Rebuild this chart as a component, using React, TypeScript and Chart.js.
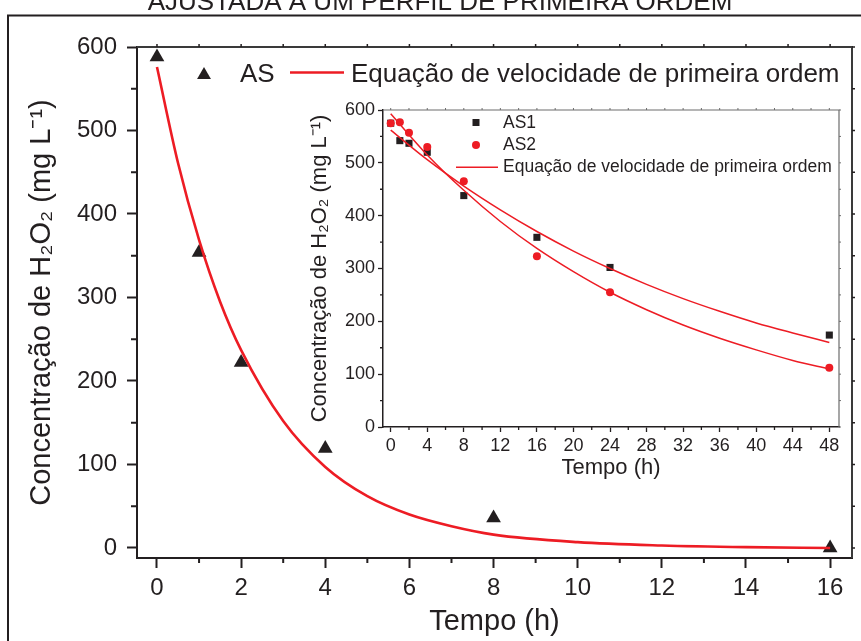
import React, { useEffect, useRef } from 'react';
import { Chart, registerables } from 'chart.js';

Chart.register(...registerables);

const INK = '#231f20';
const RED = '#ed1c24';
const FONT = "'Liberation Sans', Arial, Helvetica, sans-serif";

const HEADING = 'AJUSTADA A UM PERFIL DE PRIMEIRA ORDEM';
const X_TITLE = 'Tempo (h)';
const Y_TITLE = 'Concentração de H₂O₂ (mg L⁻¹)';
const FIT_LABEL = 'Equação de velocidade de primeira ordem';

// Main panel: AS run and its first-order rate curve
const asTimes = [0, 1, 2, 4, 8, 16];
const asConc = [588, 354, 222, 119, 36, 0];
const asFitTimes = [0, 0.5, 1, 1.5, 2, 3, 4, 5, 6, 7, 8, 10, 12, 14, 16];
const asFitConc = [576, 461, 369, 295, 237, 152, 97, 62, 40, 26, 16, 7, 3, 1, 0];
const mainXTicks = [0, 2, 4, 6, 8, 10, 12, 14, 16];
const mainXMinor = [1, 3, 5, 7, 9, 11, 13, 15];
const mainYTicks = [0, 100, 200, 300, 400, 500, 600];
const mainYMinor = [50, 150, 250, 350, 450, 550];

// Inset: AS1 and AS2 runs over 48 h with their first-order curves
const insetTimes = [0, 1, 2, 4, 8, 16, 24, 48];
const as1Conc = [575, 542, 537, 520, 438, 359, 302, 174];
const as2Conc = [575, 577, 557, 530, 465, 323, 255, 112];
const insetFitTimes = [0, 4, 8, 12, 16, 20, 24, 28, 32, 36, 40, 44, 48];
const as1FitConc = [562, 506, 456, 411, 370, 333, 300, 270, 243, 219, 197, 178, 160];
const as2FitConc = [593, 515, 448, 389, 338, 294, 255, 222, 193, 168, 146, 126, 110];
const insetXTicks = [0, 4, 8, 12, 16, 20, 24, 28, 32, 36, 40, 44, 48];
const insetXMinor = [2, 6, 10, 14, 18, 22, 26, 30, 34, 38, 42, 46];
const insetYTicks = [0, 100, 200, 300, 400, 500, 600];
const insetYMinor = [50, 150, 250, 350, 450, 550];

const pts = (xs: number[], ys: number[]) => xs.map((x, i) => ({ x, y: ys[i] }));

type Side = 'bottom' | 'top' | 'left' | 'right';

function tickMarks(ctx: CanvasRenderingContext2D, scale: any, values: number[], side: Side, edge: number, len: number) {
  ctx.beginPath();
  for (const v of values) {
    const p = scale.getPixelForValue(v);
    if (side === 'bottom') { ctx.moveTo(p, edge); ctx.lineTo(p, edge + len); }
    else if (side === 'top') { ctx.moveTo(p, edge); ctx.lineTo(p, edge - len); }
    else if (side === 'left') { ctx.moveTo(edge, p); ctx.lineTo(edge - len, p); }
    else { ctx.moveTo(edge, p); ctx.lineTo(edge + len, p); }
  }
  ctx.stroke();
}

function triangle(ctx: CanvasRenderingContext2D, x: number, y: number, r: number) {
  ctx.beginPath();
  for (let k = 0; k < 3; k++) {
    const a = (k * 2 * Math.PI) / 3;
    const px = x + Math.sin(a) * r;
    const py = y - Math.cos(a) * r;
    if (k === 0) ctx.moveTo(px, py); else ctx.lineTo(px, py);
  }
  ctx.closePath();
  ctx.fill();
}

const mainDecor = {
  id: 'mainDecor',
  afterDraw(chart: any) {
    const { ctx, chartArea: a, scales } = chart;
    const xs = scales.x;
    const ys = scales.y;
    ctx.save();
    // outer frame
    ctx.strokeStyle = INK;
    ctx.lineWidth = 2;
    ctx.strokeRect(8, 15.5, 920, 720);
    // heading
    ctx.fillStyle = INK;
    ctx.font = `26px ${FONT}`;
    ctx.textAlign = 'center';
    ctx.textBaseline = 'alphabetic';
    ctx.fillText(HEADING, 440, 10);
    // top and right edges of the plot box
    ctx.strokeStyle = '#3a3a3a';
    ctx.lineWidth = 2;
    ctx.beginPath();
    ctx.moveTo(a.left, a.top);
    ctx.lineTo(a.right, a.top);
    ctx.lineTo(a.right, a.bottom);
    ctx.stroke();
    // minor ticks
    ctx.strokeStyle = INK;
    ctx.lineWidth = 2;
    tickMarks(ctx, xs, mainXMinor, 'bottom', a.bottom, 5);
    tickMarks(ctx, ys, mainYMinor, 'left', a.left, 6);
    // mirrored ticks on the top and right edges
    ctx.lineWidth = 1.5;
    tickMarks(ctx, xs, [...mainXTicks, ...mainXMinor], 'top', a.top, 3);
    tickMarks(ctx, ys, [...mainYTicks, ...mainYMinor], 'right', a.right, 3);
    // legend
    ctx.fillStyle = INK;
    triangle(ctx, 204, 75, 8);
    ctx.font = `26px ${FONT}`;
    ctx.textAlign = 'left';
    ctx.textBaseline = 'alphabetic';
    ctx.fillText('AS', 240, 82);
    ctx.strokeStyle = RED;
    ctx.lineWidth = 2.6;
    ctx.beginPath();
    ctx.moveTo(290, 72.5);
    ctx.lineTo(344, 72.5);
    ctx.stroke();
    ctx.fillText(FIT_LABEL, 351, 82);
    ctx.restore();
  },
};

const insetDecor = {
  id: 'insetDecor',
  afterDraw(chart: any) {
    const { ctx, chartArea: a, scales } = chart;
    const xs = scales.x;
    const ys = scales.y;
    ctx.save();
    ctx.strokeStyle = '#6d6d6d';
    ctx.lineWidth = 1.2;
    ctx.beginPath();
    ctx.moveTo(a.left, a.top);
    ctx.lineTo(a.right, a.top);
    ctx.lineTo(a.right, a.bottom);
    ctx.stroke();
    ctx.strokeStyle = INK;
    ctx.lineWidth = 1.3;
    tickMarks(ctx, xs, insetXMinor, 'bottom', a.bottom, 3);
    tickMarks(ctx, ys, insetYMinor, 'left', a.left, 3);
    ctx.strokeStyle = '#6d6d6d';
    ctx.lineWidth = 1;
    tickMarks(ctx, xs, [...insetXTicks, ...insetXMinor], 'top', a.top, 2);
    tickMarks(ctx, ys, [...insetYTicks, ...insetYMinor], 'right', a.right, 2);
    // legend
    const lx = a.left + 93;
    ctx.fillStyle = INK;
    ctx.fillRect(lx - 3.5, a.top + 12.5 - 3.5, 7, 7);
    ctx.fillStyle = RED;
    ctx.beginPath();
    ctx.arc(lx, a.top + 35, 4, 0, Math.PI * 2);
    ctx.fill();
    ctx.strokeStyle = RED;
    ctx.lineWidth = 1.5;
    ctx.beginPath();
    ctx.moveTo(lx - 20, a.top + 57.3);
    ctx.lineTo(lx + 22, a.top + 57.3);
    ctx.stroke();
    ctx.fillStyle = INK;
    ctx.font = `17.5px ${FONT}`;
    ctx.textAlign = 'left';
    ctx.textBaseline = 'middle';
    ctx.fillText('AS1', lx + 27, a.top + 13);
    ctx.fillText('AS2', lx + 27, a.top + 35);
    ctx.fillText(FIT_LABEL, lx + 27, a.top + 57);
    ctx.restore();
  },
};

export default function App() {
  const mainRef = useRef<HTMLCanvasElement>(null);
  const insetRef = useRef<HTMLCanvasElement>(null);

  useEffect(() => {
    document.body.style.margin = '0';

    const main = new Chart(mainRef.current as HTMLCanvasElement, {
      type: 'scatter',
      data: {
        datasets: [
          {
            label: FIT_LABEL,
            data: pts(asFitTimes, asFitConc),
            showLine: true,
            borderColor: RED,
            borderWidth: 2.6,
            pointRadius: 0,
            cubicInterpolationMode: 'monotone',
            order: 0,
          },
          {
            label: 'AS',
            data: pts(asTimes, asConc),
            pointStyle: 'triangle',
            pointRadius: 8.5,
            pointBackgroundColor: INK,
            pointBorderColor: INK,
            pointBorderWidth: 0,
            order: 1,
          },
        ],
      },
      options: {
        responsive: false,
        animation: false,
        events: [],
        layout: { padding: { left: 0, top: 47, right: 9, bottom: 0 } },
        plugins: { legend: { display: false }, tooltip: { enabled: false } },
        scales: {
          x: {
            type: 'linear',
            min: -0.475,
            max: 16.52,
            afterBuildTicks: (s: any) => { s.ticks = mainXTicks.map((value) => ({ value })); },
            afterFit: (s: any) => { s.height = 83; },
            ticks: { color: INK, font: { family: FONT, size: 24 }, padding: 6 },
            grid: { drawOnChartArea: false, drawTicks: true, tickLength: 10, tickColor: INK, tickWidth: 2 },
            border: { color: INK, width: 2 },
            title: { display: true, text: X_TITLE, color: INK, font: { family: FONT, size: 29 }, padding: { top: 0, bottom: 2 } },
          },
          y: {
            type: 'linear',
            min: -12,
            max: 600,
            afterBuildTicks: (s: any) => { s.ticks = mainYTicks.map((value) => ({ value })); },
            afterFit: (s: any) => { s.width = 137; },
            ticks: { color: INK, font: { family: FONT, size: 24 }, padding: 10 },
            grid: { drawOnChartArea: false, drawTicks: true, tickLength: 10, tickColor: INK, tickWidth: 2 },
            border: { color: INK, width: 2 },
            title: { display: true, text: Y_TITLE, color: INK, font: { family: FONT, size: 29 }, padding: { top: 24.6, bottom: 0 } },
          },
        },
      },
      plugins: [mainDecor],
    } as any);

    const inset = new Chart(insetRef.current as HTMLCanvasElement, {
      type: 'scatter',
      data: {
        datasets: [
          {
            label: 'AS1 ' + FIT_LABEL,
            data: pts(insetFitTimes, as1FitConc),
            showLine: true,
            borderColor: RED,
            borderWidth: 1.5,
            pointRadius: 0,
            cubicInterpolationMode: 'monotone',
            order: 0,
          },
          {
            label: 'AS2 ' + FIT_LABEL,
            data: pts(insetFitTimes, as2FitConc),
            showLine: true,
            borderColor: RED,
            borderWidth: 1.5,
            pointRadius: 0,
            cubicInterpolationMode: 'monotone',
            order: 0,
          },
          {
            label: 'AS2',
            data: pts(insetTimes, as2Conc),
            pointStyle: 'circle',
            pointRadius: 4,
            pointBackgroundColor: RED,
            pointBorderColor: RED,
            pointBorderWidth: 0,
            order: 1,
          },
          {
            label: 'AS1',
            data: pts(insetTimes, as1Conc),
            pointStyle: 'rect',
            pointRadius: 5,
            pointBackgroundColor: INK,
            pointBorderColor: INK,
            pointBorderWidth: 0,
            order: 2,
          },
        ],
      },
      options: {
        responsive: false,
        animation: false,
        events: [],
        layout: { padding: { left: 0, top: 15, right: 11, bottom: 0 } },
        plugins: { legend: { display: false }, tooltip: { enabled: false } },
        scales: {
          x: {
            type: 'linear',
            min: -0.843,
            max: 49.06,
            afterBuildTicks: (s: any) => { s.ticks = insetXTicks.map((value) => ({ value })); },
            afterFit: (s: any) => { s.height = 68; },
            ticks: { color: INK, font: { family: FONT, size: 18 }, padding: 3, maxRotation: 0, autoSkip: false },
            grid: { drawOnChartArea: false, drawTicks: true, tickLength: 5, tickColor: INK, tickWidth: 1.3 },
            border: { color: INK, width: 1.5 },
            title: { display: true, text: X_TITLE, color: INK, font: { family: FONT, size: 22 }, padding: { top: 0, bottom: 13.8 } },
          },
          y: {
            type: 'linear',
            min: 0,
            max: 600,
            afterBuildTicks: (s: any) => { s.ticks = insetYTicks.map((value) => ({ value })); },
            afterFit: (s: any) => { s.width = 93; },
            ticks: { color: INK, font: { family: FONT, size: 18 }, padding: 3 },
            grid: { drawOnChartArea: false, drawTicks: true, tickLength: 5, tickColor: INK, tickWidth: 1.3 },
            border: { color: INK, width: 1.5 },
            title: { display: true, text: Y_TITLE, color: INK, font: { family: FONT, size: 22 }, padding: { top: 16.8, bottom: 0 } },
          },
        },
      },
      plugins: [insetDecor],
    } as any);

    return () => {
      main.destroy();
      inset.destroy();
    };
  }, []);

  return (
    <div style={{ position: 'relative', width: 861, height: 641, background: '#ffffff', overflow: 'hidden' }}>
      <canvas ref={mainRef} width={861} height={641} style={{ position: 'absolute', left: 0, top: 0 }} />
      <canvas ref={insetRef} width={560} height={400} style={{ position: 'absolute', left: 290, top: 95 }} />
    </div>
  );
}
